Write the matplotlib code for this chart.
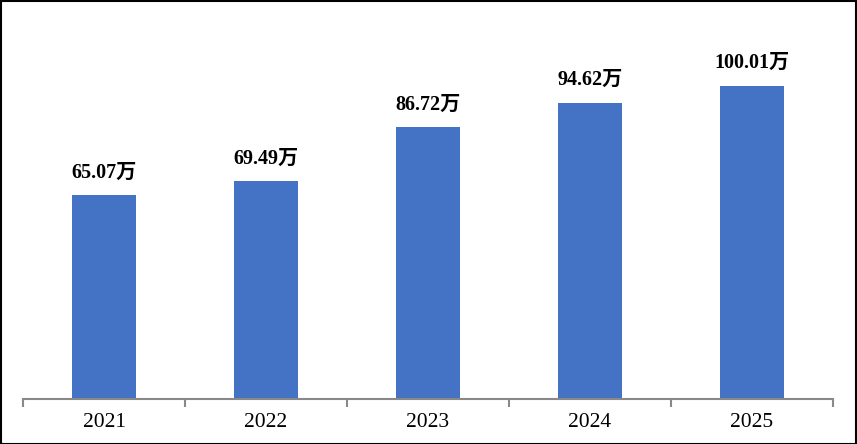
import matplotlib
matplotlib.use("Agg")
import matplotlib.pyplot as plt
from matplotlib.patches import Rectangle

years = ["2021", "2022", "2023", "2024", "2025"]
values = [65.07, 69.49, 86.72, 94.62, 100.01]
labels = ["65.07万", "69.49万", "86.72万", "94.62万", "100.01万"]

W, H = 857, 444
fig = plt.figure(figsize=(W / 100, H / 100), dpi=100)
ax = fig.add_axes([23 / W, 45 / H, (833 - 23) / W, 376 / H])

x = list(range(len(years)))
ax.bar(x, values, width=0.4, color="#4472C4", zorder=2)
ax.set_xlim(-0.5, len(years) - 0.5)
ax.set_ylim(0, 120)

for xi, v, lab in zip(x, values, labels):
    ax.annotate(lab, (xi, v), xytext=(0, 9), textcoords="offset points",
                ha="center", va="bottom", fontsize=14.5, fontweight="bold",
                family=["Liberation Serif", "Noto Sans CJK SC"], color="#000000")

for s in ["top", "right", "left"]:
    ax.spines[s].set_visible(False)
ax.spines["bottom"].set_color("#898989")
ax.spines["bottom"].set_linewidth(1.5)
ax.set_yticks([])
ax.set_xticks(x)
ax.set_xticklabels(years, family="Liberation Serif", fontsize=15.5)
ax.tick_params(axis="x", which="major", length=0, pad=10)
ax.set_xticks([i - 0.5 for i in range(len(years) + 1)], minor=True)
ax.tick_params(axis="x", which="minor", length=6, width=1.5, color="#898989", direction="out")

fig.patches.append(Rectangle((0.5 / W, 0.5 / H), (W - 2) / W, (H - 2) / H,
                             transform=fig.transFigure, fill=False,
                             edgecolor="black", linewidth=1.5))

fig.savefig("out.png", dpi=100)
